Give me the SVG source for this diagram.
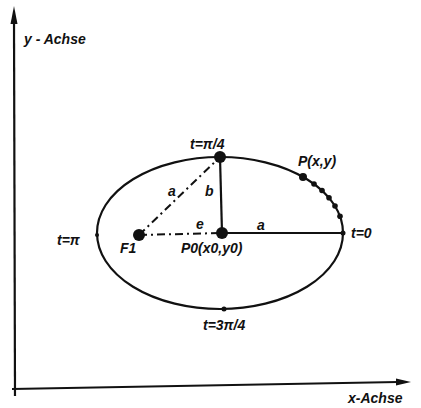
<svg xmlns="http://www.w3.org/2000/svg" width="421" height="408" viewBox="0 0 421 408">
<style>
text{font-family:"Liberation Sans",Arial,sans-serif;font-style:italic;font-weight:bold;font-size:14px;fill:#111}
.ln{stroke:#111;stroke-width:2.2;fill:none}
.dd{stroke:#111;stroke-width:2;fill:none;stroke-dasharray:8 4 2 4}
.big{fill:#111}
</style>
<rect width="421" height="408" fill="#fff"/>
<g id="axes">
<line class="ln" x1="14" y1="22" x2="15" y2="396"/>
<path d="M14 6 L10.5 24 L17.5 24 Z" fill="#111"/>
<line class="ln" x1="12" y1="389" x2="398" y2="382"/>
<path d="M411 382 L396 378.5 L396 385.5 Z" fill="#111"/>
<text x="24" y="44">y - Achse</text>
<text x="348" y="403">x-Achse</text>
</g>
<g id="ellipse">
<ellipse class="ln" cx="220" cy="233" rx="123" ry="76"/>
</g>
<g id="connectors">
<line class="ln" x1="220" y1="157" x2="222" y2="233"/>
<line class="ln" x1="222" y1="233" x2="343" y2="233"/>
<line class="dd" x1="139" y1="235" x2="220" y2="157"/>
<line class="dd" x1="139" y1="235" x2="222" y2="233"/>
<text x="168" y="196">a</text>
<text x="205" y="196">b</text>
<text x="196" y="229">e</text>
<text x="257" y="230">a</text>
</g>
<g id="top">
<circle class="big" cx="220" cy="157" r="6"/>
<text x="190" y="149">t=π/4</text>
</g>
<g id="p0">
<circle class="big" cx="222" cy="233" r="6"/>
<text x="181" y="253">P0(x0,y0)</text>
</g>
<g id="f1">
<circle class="big" cx="139" cy="235" r="6"/>
<text x="120" y="253">F1</text>
</g>
<g id="tpi">
<circle class="big" cx="97" cy="235" r="2"/>
<text x="57" y="245">t=π</text>
</g>
<g id="t0">
<circle class="big" cx="343" cy="233" r="2.5"/>
<text x="351" y="238">t=0</text>
</g>
<g id="t3pi4">
<circle class="big" cx="224" cy="309" r="2.5"/>
<text x="203" y="330">t=3π/4</text>
</g>
<g id="pxy">
<circle class="big" cx="303" cy="177" r="4"/>
<circle class="big" cx="314" cy="184" r="2.8"/>
<circle class="big" cx="322" cy="190.5" r="2.8"/>
<circle class="big" cx="329" cy="197.7" r="2.8"/>
<circle class="big" cx="335" cy="206" r="2.8"/>
<circle class="big" cx="340" cy="216.3" r="2.8"/>
<text x="298" y="166">P(x,y)</text>
</g>
</svg>
